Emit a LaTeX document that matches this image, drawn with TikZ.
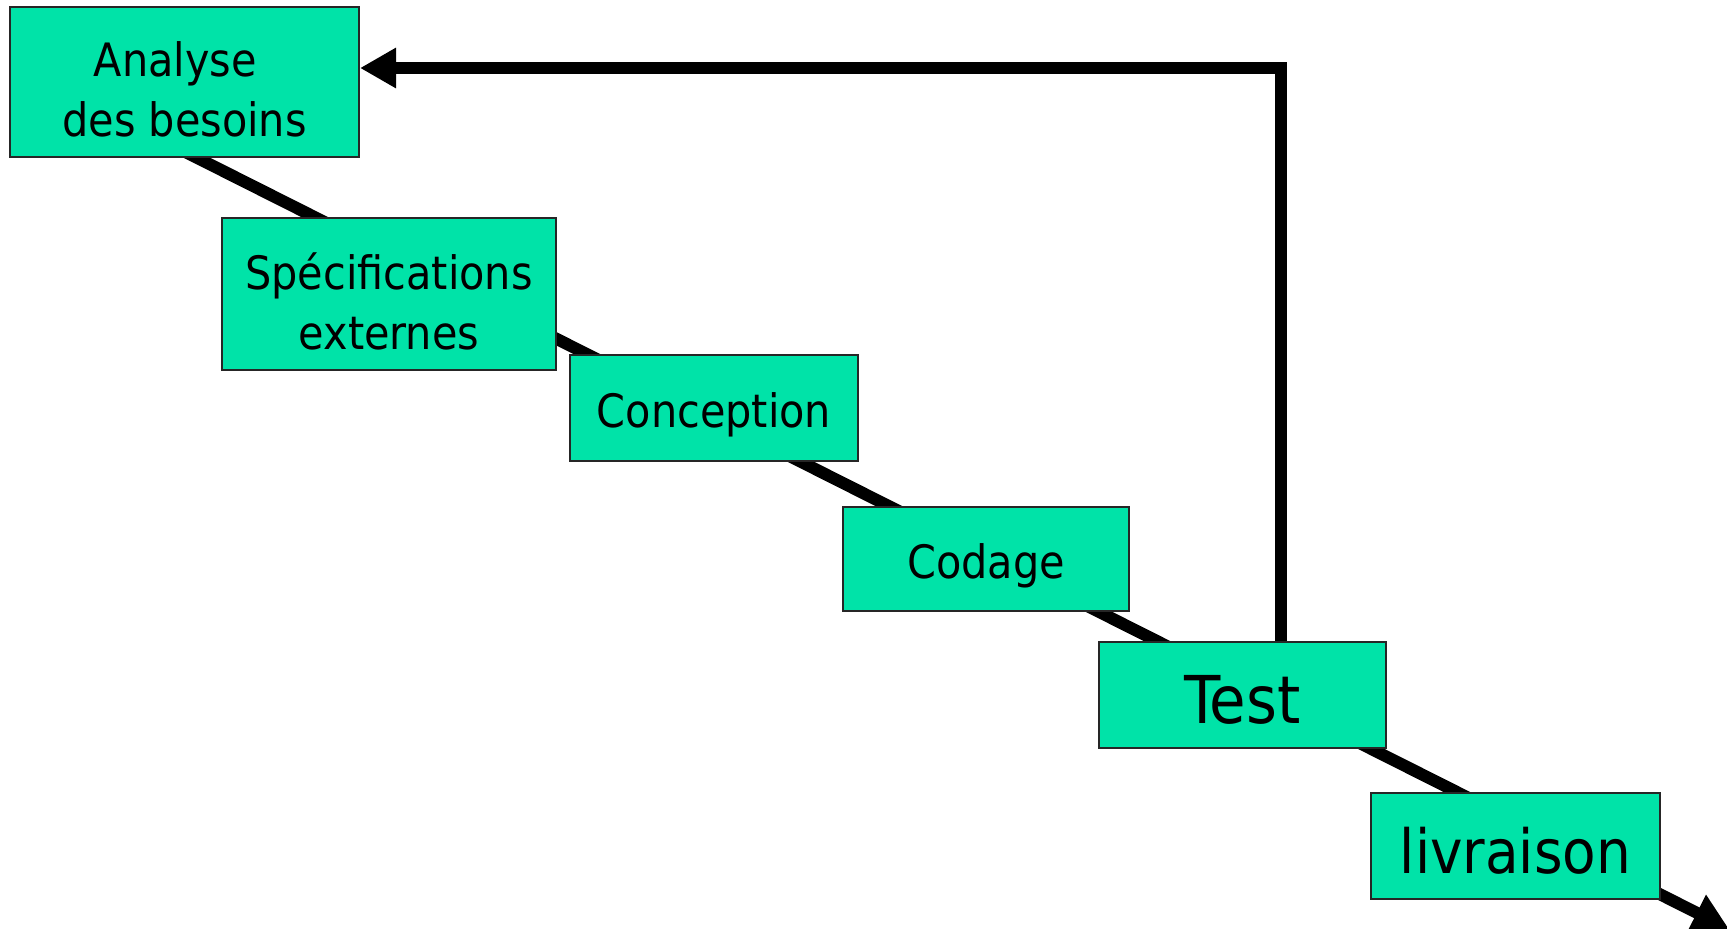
\documentclass[tikz,border=0pt]{standalone}
\usepackage{fontspec}
\setmainfont{DejaVu Sans Condensed}
\usetikzlibrary{arrows.meta,backgrounds}
\definecolor{boxfill}{RGB}{0,227,168}
\tikzset{
  phase/.style={draw=black!85, line width=2pt, fill=boxfill, inner sep=0pt},
  small/.style={font=\fontsize{46}{60}\selectfont, align=center, inner sep=0pt, yshift=-7pt},
  big/.style={font=\fontsize{61}{70}\selectfont, align=center, inner sep=0pt, yshift=-5pt},
  flow/.style={line width=12pt, draw=black},
  tip/.style={-{Triangle[length=36pt,width=38pt]}}
}
\begin{document}
\begin{tikzpicture}[x=1pt,y=-1pt]
\clip (0,0) rectangle (1727,929);
\node[phase,minimum width=349pt,minimum height=150pt,label={[small]center:Analyse\hspace*{0.4em}\\des besoins}] (ana) at (184.5,82) {};
\node[phase,minimum width=334pt,minimum height=152pt,label={[small]center:Spécifications\\externes}] (spec) at (389,294) {};
\node[phase,minimum width=288pt,minimum height=106pt,label={[small]center:Conception}] (conc) at (714,408) {};
\node[phase,minimum width=286pt,minimum height=104pt,label={[small]center:Codage}] (cod) at (986,559) {};
\node[phase,minimum width=287pt,minimum height=106pt,label={[big,font=\fontsize{66}{70}\selectfont]center:Test}] (test) at (1242.5,695) {};
\node[phase,minimum width=289pt,minimum height=106pt,label={[big]center:livraison}] (liv) at (1515.5,846) {};
\coordinate (d0) at (100,109);
\coordinate (d1) at (1729,929);
\coordinate (fb) at (1281,68);
\begin{pgfonlayer}{background}
\fill[white] (0,0) rectangle (1727,929);
\draw[flow,tip] (d0) -- (d1);
\draw[flow] (test.north -| fb) -- (fb);
\end{pgfonlayer}
\draw[flow,tip,line join=miter] ([yshift=-6pt]fb) -- (fb) -- (ana.east |- fb);
\end{tikzpicture}
\end{document}
